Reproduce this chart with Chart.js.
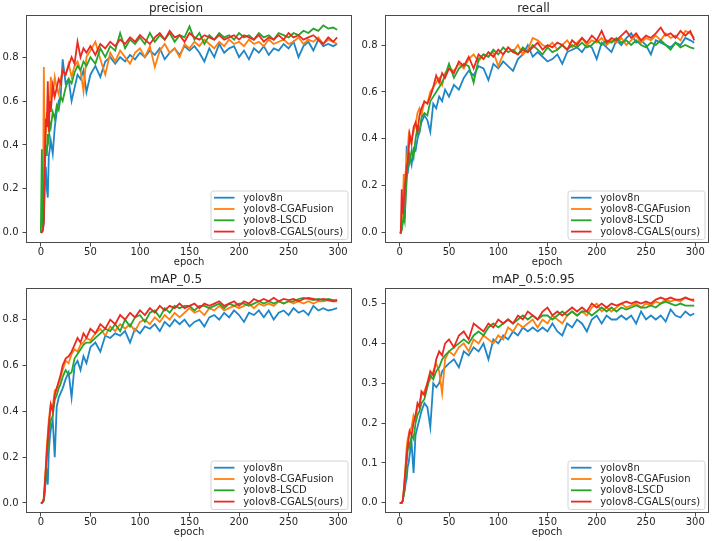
<!DOCTYPE html>
<html>
<head>
<meta charset="utf-8">
<script src="https://cdn.jsdelivr.net/npm/chart.js@4.4.1/dist/chart.umd.min.js"></script>
<style>
html,body{margin:0;padding:0;background:#fff;}
#wrap{position:relative;width:716px;height:541px;overflow:hidden;background:#fff;}
#wrap canvas{position:absolute;}
</style>
</head>
<body>
<div id="wrap">
<canvas id="c0" width="358" height="270" style="left:0px;top:0px"></canvas>
<canvas id="c1" width="358" height="270" style="left:358px;top:0px"></canvas>
<canvas id="c2" width="358" height="271" style="left:0px;top:270px"></canvas>
<canvas id="c3" width="358" height="271" style="left:358px;top:270px"></canvas>
</div>
<script>
// ---------------- data ----------------
const EPOCHS = [
  0,1,2,3,4,5,6,7,8,9,
  10,12,14,16,18,20,22,25,28,31,
  34,37,40,43,46,50,55,60,65,70,
  75,80,85,90,95,100,105,110,115,120,
  125,130,135,140,145,150,155,160,165,170,
  175,180,185,190,195,200,205,210,215,220,
  225,230,235,240,245,250,255,260,265,270,
  275,280,285,290,295,299];

const SERIES_NAMES = ['yolov8n','yolov8-CGAFusion','yolov8-LSCD','yolov8-CGALS(ours)'];
const X_TICKS = [0,50,100,150,200,250,300];
const Y_TICKS_UNIT = [0,0.2,0.4,0.6,0.8];
const Y_TICKS_HALF = [0,0.1,0.2,0.3,0.4,0.5];
const PANEL_TITLES = ['precision','recall','mAP_0.5','mAP_0.5:0.95'];
const X_LABEL = 'epoch';

// precision
const PREC_V8N = [
  0,0.003,0.01,0.05,0.22,0.30,0.20,0.16,0.35,0.38,
  0.42,0.36,0.48,0.55,0.60,0.62,0.79,0.68,0.70,0.60,
  0.66,0.72,0.70,0.74,0.64,0.72,0.76,0.71,0.78,0.80,
  0.77,0.80,0.78,0.81,0.79,0.82,0.80,0.83,0.81,0.84,
  0.79,0.82,0.84,0.81,0.85,0.83,0.85,0.82,0.78,0.84,
  0.80,0.86,0.82,0.84,0.85,0.80,0.83,0.79,0.84,0.82,
  0.85,0.81,0.84,0.83,0.86,0.84,0.87,0.80,0.85,0.87,
  0.83,0.88,0.85,0.86,0.85,0.86];
const PREC_CGAF = [
  0,0.005,0.02,0.755,0.30,0.45,0.55,0.50,0.62,0.58,
  0.71,0.62,0.71,0.66,0.63,0.70,0.74,0.72,0.77,0.71,
  0.76,0.78,0.74,0.645,0.80,0.83,0.87,0.79,0.72,0.82,
  0.78,0.83,0.80,0.77,0.82,0.84,0.80,0.85,0.755,0.83,
  0.86,0.82,0.84,0.80,0.86,0.84,0.87,0.85,0.88,0.86,
  0.84,0.87,0.85,0.88,0.86,0.87,0.85,0.88,0.86,0.87,
  0.85,0.88,0.86,0.87,0.88,0.86,0.87,0.89,0.86,0.88,
  0.87,0.89,0.86,0.88,0.87,0.86];
const PREC_LSCD = [
  0,0.38,0.02,0.10,0.30,0.40,0.35,0.45,0.42,0.50,
  0.48,0.55,0.52,0.58,0.56,0.62,0.60,0.66,0.70,0.68,
  0.73,0.76,0.74,0.78,0.76,0.80,0.77,0.84,0.80,0.85,
  0.83,0.91,0.84,0.88,0.86,0.89,0.86,0.91,0.87,0.90,
  0.88,0.91,0.87,0.90,0.89,0.94,0.88,0.91,0.86,0.90,
  0.88,0.91,0.89,0.90,0.88,0.91,0.89,0.90,0.88,0.91,
  0.89,0.90,0.88,0.91,0.90,0.89,0.91,0.90,0.92,0.91,
  0.93,0.92,0.945,0.93,0.935,0.925];
const PREC_CGALS = [
  0,0.003,0.01,0.05,0.35,0.52,0.48,0.69,0.46,0.60,
  0.55,0.67,0.62,0.66,0.70,0.68,0.74,0.72,0.76,0.80,
  0.77,0.87,0.80,0.84,0.82,0.85,0.81,0.86,0.84,0.87,
  0.85,0.88,0.86,0.89,0.87,0.90,0.88,0.86,0.89,0.91,
  0.88,0.92,0.89,0.90,0.87,0.91,0.89,0.88,0.90,0.89,
  0.88,0.90,0.88,0.89,0.90,0.88,0.90,0.89,0.88,0.90,
  0.87,0.89,0.88,0.90,0.88,0.91,0.89,0.90,0.88,0.89,
  0.90,0.88,0.86,0.89,0.87,0.89];

// recall
const REC_V8N = [
  0,0,0.02,0.05,0.10,0.06,0.18,0.37,0.25,0.30,
  0.33,0.29,0.36,0.35,0.40,0.43,0.47,0.50,0.48,0.43,
  0.55,0.53,0.58,0.56,0.61,0.58,0.63,0.61,0.66,0.69,
  0.67,0.71,0.70,0.65,0.72,0.70,0.73,0.71,0.69,0.74,
  0.76,0.80,0.75,0.77,0.75,0.73,0.74,0.76,0.72,0.77,
  0.78,0.79,0.77,0.80,0.79,0.74,0.81,0.79,0.77,0.82,
  0.80,0.83,0.85,0.81,0.82,0.80,0.76,0.82,0.81,0.80,
  0.79,0.81,0.80,0.83,0.82,0.81];
const REC_CGAF = [
  0,0,0.03,0.10,0.25,0.22,0.26,0.30,0.35,0.41,
  0.38,0.40,0.43,0.46,0.51,0.53,0.50,0.56,0.55,0.60,
  0.62,0.64,0.66,0.63,0.68,0.70,0.69,0.72,0.70,0.74,
  0.76,0.73,0.76,0.75,0.77,0.71,0.76,0.79,0.77,0.80,
  0.76,0.78,0.83,0.82,0.80,0.79,0.81,0.78,0.80,0.82,
  0.79,0.81,0.83,0.80,0.82,0.81,0.83,0.80,0.82,0.81,
  0.83,0.80,0.82,0.84,0.81,0.83,0.82,0.84,0.82,0.85,
  0.83,0.84,0.82,0.86,0.85,0.83];
const REC_LSCD = [
  0,0,0.01,0.04,0.07,0.05,0.15,0.22,0.28,0.33,
  0.30,0.35,0.32,0.40,0.45,0.43,0.49,0.51,0.50,0.56,
  0.58,0.60,0.62,0.64,0.67,0.72,0.66,0.70,0.72,0.71,
  0.64,0.74,0.76,0.75,0.78,0.76,0.79,0.77,0.78,0.76,
  0.79,0.77,0.80,0.78,0.76,0.79,0.77,0.78,0.80,0.78,
  0.80,0.79,0.81,0.79,0.80,0.82,0.80,0.82,0.81,0.83,
  0.81,0.82,0.80,0.82,0.80,0.79,0.81,0.80,0.82,0.80,
  0.78,0.81,0.79,0.80,0.79,0.785];
const REC_CGALS = [
  0,0,0.185,0.08,0.12,0.20,0.23,0.28,0.30,0.35,
  0.42,0.38,0.45,0.47,0.43,0.50,0.53,0.56,0.55,0.58,
  0.62,0.67,0.64,0.68,0.66,0.70,0.68,0.73,0.71,0.75,
  0.70,0.76,0.74,0.77,0.75,0.78,0.76,0.79,0.77,0.76,
  0.78,0.77,0.79,0.81,0.78,0.80,0.79,0.81,0.80,0.78,
  0.82,0.80,0.83,0.81,0.84,0.82,0.86,0.81,0.83,0.82,
  0.84,0.86,0.83,0.85,0.82,0.84,0.83,0.85,0.875,0.84,
  0.85,0.83,0.86,0.84,0.86,0.82];

// mAP_0.5
const MAP50_V8N = [
  0,0,0.005,0.01,0.05,0.10,0.15,0.08,0.22,0.28,
  0.32,0.36,0.20,0.42,0.46,0.48,0.50,0.54,0.57,0.46,
  0.60,0.62,0.58,0.64,0.61,0.68,0.70,0.66,0.73,0.72,
  0.74,0.73,0.75,0.70,0.76,0.74,0.77,0.76,0.78,0.75,
  0.79,0.77,0.80,0.78,0.80,0.77,0.79,0.80,0.77,0.81,
  0.82,0.80,0.83,0.81,0.84,0.82,0.79,0.83,0.82,0.84,
  0.81,0.84,0.80,0.83,0.84,0.82,0.85,0.83,0.84,0.82,
  0.86,0.84,0.85,0.84,0.845,0.85];
const MAP50_CGAF = [
  0,0,0.005,0.02,0.10,0.16,0.25,0.30,0.36,0.40,
  0.43,0.42,0.49,0.50,0.52,0.55,0.58,0.62,0.61,0.65,
  0.67,0.66,0.69,0.70,0.72,0.71,0.74,0.76,0.73,0.77,
  0.75,0.78,0.76,0.78,0.75,0.79,0.80,0.78,0.81,0.79,
  0.82,0.80,0.83,0.81,0.83,0.85,0.83,0.84,0.82,0.85,
  0.84,0.86,0.84,0.85,0.86,0.85,0.86,0.87,0.85,0.87,
  0.86,0.87,0.86,0.88,0.87,0.88,0.87,0.88,0.87,0.88,
  0.87,0.88,0.88,0.885,0.88,0.88];
const MAP50_LSCD = [
  0,0,0.005,0.01,0.06,0.12,0.20,0.24,0.30,0.33,
  0.36,0.38,0.45,0.47,0.50,0.52,0.55,0.58,0.56,0.57,
  0.63,0.65,0.67,0.69,0.70,0.70,0.72,0.74,0.76,0.75,
  0.78,0.75,0.80,0.77,0.81,0.82,0.79,0.83,0.84,0.81,
  0.85,0.83,0.86,0.85,0.86,0.86,0.84,0.86,0.86,0.85,
  0.86,0.87,0.85,0.87,0.86,0.87,0.87,0.86,0.87,0.88,
  0.87,0.88,0.87,0.88,0.87,0.88,0.88,0.89,0.895,0.89,
  0.885,0.89,0.885,0.89,0.885,0.885];
const MAP50_CGALS = [
  0,0,0.005,0.02,0.08,0.15,0.22,0.28,0.34,0.38,
  0.43,0.40,0.47,0.50,0.53,0.56,0.60,0.63,0.64,0.66,
  0.69,0.72,0.70,0.74,0.72,0.76,0.74,0.78,0.76,0.80,
  0.78,0.82,0.80,0.83,0.81,0.84,0.82,0.85,0.83,0.86,
  0.84,0.86,0.85,0.87,0.85,0.86,0.87,0.85,0.87,0.86,
  0.87,0.88,0.86,0.87,0.88,0.86,0.88,0.87,0.89,0.88,
  0.89,0.88,0.895,0.88,0.89,0.885,0.89,0.88,0.89,0.895,
  0.89,0.885,0.89,0.885,0.88,0.885];

// mAP_0.5:0.95
const MAP5095_V8N = [
  0,0,0,0.005,0.02,0.03,0.05,0.06,0.09,0.10,
  0.12,0.15,0.075,0.17,0.19,0.21,0.23,0.25,0.24,0.19,
  0.30,0.29,0.30,0.33,0.34,0.35,0.36,0.34,0.38,0.37,
  0.39,0.38,0.40,0.36,0.41,0.40,0.42,0.41,0.43,0.42,
  0.44,0.43,0.44,0.43,0.44,0.43,0.45,0.43,0.42,0.45,
  0.44,0.46,0.45,0.43,0.46,0.47,0.45,0.47,0.46,0.46,
  0.47,0.46,0.47,0.45,0.48,0.46,0.47,0.46,0.47,0.455,
  0.485,0.47,0.465,0.48,0.47,0.475];
const MAP5095_CGAF = [
  0,0,0,0.005,0.03,0.06,0.10,0.14,0.16,0.17,
  0.18,0.19,0.22,0.21,0.24,0.25,0.27,0.28,0.30,0.31,
  0.33,0.35,0.33,0.275,0.36,0.38,0.37,0.39,0.40,0.38,
  0.41,0.40,0.42,0.41,0.40,0.42,0.41,0.44,0.43,0.45,
  0.44,0.45,0.46,0.44,0.46,0.45,0.47,0.46,0.45,0.47,
  0.48,0.47,0.48,0.47,0.49,0.50,0.48,0.49,0.48,0.49,
  0.50,0.49,0.495,0.50,0.49,0.50,0.495,0.505,0.50,0.51,
  0.505,0.51,0.505,0.515,0.51,0.505];
const MAP5095_LSCD = [
  0,0,0,0.005,0.02,0.04,0.07,0.10,0.13,0.15,
  0.14,0.17,0.16,0.20,0.22,0.23,0.25,0.26,0.29,0.32,
  0.31,0.33,0.34,0.36,0.37,0.38,0.39,0.40,0.41,0.40,
  0.42,0.43,0.42,0.44,0.45,0.44,0.45,0.46,0.45,0.46,
  0.47,0.46,0.47,0.46,0.47,0.47,0.46,0.47,0.48,0.47,
  0.48,0.47,0.48,0.48,0.47,0.48,0.49,0.48,0.49,0.48,
  0.49,0.485,0.49,0.495,0.49,0.49,0.495,0.49,0.50,0.505,
  0.50,0.495,0.50,0.495,0.495,0.495];
const MAP5095_CGALS = [
  0,0,0,0.005,0.03,0.06,0.09,0.12,0.14,0.16,
  0.18,0.17,0.20,0.22,0.25,0.24,0.28,0.27,0.30,0.33,
  0.32,0.36,0.38,0.37,0.40,0.41,0.39,0.42,0.43,0.41,
  0.45,0.44,0.43,0.45,0.44,0.46,0.45,0.46,0.45,0.47,
  0.46,0.48,0.47,0.46,0.48,0.49,0.47,0.48,0.47,0.48,
  0.49,0.48,0.49,0.48,0.50,0.49,0.50,0.49,0.50,0.495,
  0.50,0.505,0.50,0.505,0.50,0.505,0.50,0.51,0.515,0.51,
  0.515,0.51,0.51,0.515,0.51,0.51];

// ---------------- style / layout ----------------
const COLORS = ['#1f86c8', '#ff7f0e', '#26a52a', '#ea2a22'];
const FONT = '"DejaVu Sans", "Liberation Sans", sans-serif';
const FRAME_COLOR = '#4a4a4a';
const TEXT_COLOR = '#262626';

const PANELS = [
  { id:'c0', title:PANEL_TITLES[0], series:[PREC_V8N,PREC_CGAF,PREC_LSCD,PREC_CGALS],
    yMin:-0.047, yMax:0.992, yTicks:Y_TICKS_UNIT,
    areaLeft:26, padRight:6, titlePad:{top:3,bottom:0}, xAxisH:27, xTitlePad:2 },
  { id:'c1', title:PANEL_TITLES[1], series:[REC_V8N,REC_CGAF,REC_LSCD,REC_CGALS],
    yMin:-0.044, yMax:0.928, yTicks:Y_TICKS_UNIT,
    areaLeft:27, padRight:7, titlePad:{top:3,bottom:0}, xAxisH:27, xTitlePad:2 },
  { id:'c2', title:PANEL_TITLES[2], series:[MAP50_V8N,MAP50_CGAF,MAP50_LSCD,MAP50_CGALS],
    yMin:-0.044, yMax:0.938, yTicks:Y_TICKS_UNIT,
    areaLeft:26, padRight:6, titlePad:{top:4,bottom:2}, xAxisH:28, xTitlePad:3 },
  { id:'c3', title:PANEL_TITLES[3], series:[MAP5095_V8N,MAP5095_CGAF,MAP5095_LSCD,MAP5095_CGALS],
    yMin:-0.0255, yMax:0.539, yTicks:Y_TICKS_HALF,
    areaLeft:27, padRight:7, titlePad:{top:4,bottom:2}, xAxisH:28, xTitlePad:3 }
];

const frameLegendPlugin = {
  id: 'frameLegend',
  afterDatasetsDraw(chart) {
    const ctx = chart.ctx, a = chart.chartArea;
    ctx.save();
    ctx.strokeStyle = FRAME_COLOR;
    ctx.lineWidth = 1;
    const l = Math.round(a.left) + 0.5, t = Math.round(a.top) + 0.5;
    const r = Math.round(a.right) - 0.5, b = Math.round(a.bottom) - 0.5;
    ctx.strokeRect(l, t, r - l, b - t);
    const w = 137, h = 48.5;
    const x1 = a.right - 4.5 - w, y1 = a.bottom - 4 - h;
    ctx.beginPath();
    if (ctx.roundRect) ctx.roundRect(x1 + 0.5, y1 + 0.5, w, h, 2.5); else ctx.rect(x1 + 0.5, y1 + 0.5, w, h);
    ctx.fillStyle = 'rgba(255,255,255,0.85)';
    ctx.fill();
    ctx.strokeStyle = '#d4d4d4';
    ctx.stroke();
    ctx.font = '10px ' + FONT;
    ctx.textBaseline = 'middle';
    ctx.textAlign = 'left';
    chart.data.datasets.forEach((ds, i) => {
      const y = y1 + 7.2 + i * 11.3;
      ctx.strokeStyle = ds.borderColor;
      ctx.lineWidth = 1.8;
      ctx.beginPath();
      ctx.moveTo(x1 + 3.5, y);
      ctx.lineTo(x1 + 24, y);
      ctx.stroke();
      ctx.fillStyle = TEXT_COLOR;
      ctx.fillText(ds.label, x1 + 32.7, y + 0.5);
    });
    ctx.restore();
  }
};

PANELS.forEach(p => {
  const datasets = p.series.map((arr, i) => ({
    label: SERIES_NAMES[i],
    data: EPOCHS.map((x, k) => ({ x: x, y: arr[k] })),
    borderColor: COLORS[i],
    backgroundColor: COLORS[i],
    borderWidth: 1.8,
    pointRadius: 0,
    tension: 0,
    fill: false,
    order: 3 - i
  }));
  new Chart(document.getElementById(p.id), {
    type: 'line',
    data: { datasets },
    plugins: [frameLegendPlugin],
    options: {
      responsive: false,
      animation: false,
      devicePixelRatio: 1,
      layout: { padding: { left: 0, right: p.padRight, top: 0, bottom: 0 } },
      plugins: {
        legend: { display: false },
        tooltip: { enabled: false },
        title: {
          display: true, text: p.title, color: TEXT_COLOR,
          font: { family: FONT, size: 12, weight: 'normal', lineHeight: 1 },
          padding: p.titlePad
        }
      },
      scales: {
        x: {
          type: 'linear', min: -15, max: 314,
          afterBuildTicks: s => { s.ticks = X_TICKS.map(v => ({ value: v })); },
          afterFit: s => { s.height = p.xAxisH; },
          ticks: { color: TEXT_COLOR, font: { family: FONT, size: 10, lineHeight: 1 }, padding: 0.5,
                   maxRotation: 0, autoSkip: false, callback: v => String(v) },
          grid: { display: true, drawOnChartArea: false, drawTicks: true, tickLength: 3.5, color: FRAME_COLOR, lineWidth: 1 },
          border: { display: false },
          title: { display: true, text: X_LABEL, color: TEXT_COLOR,
                   font: { family: FONT, size: 10, lineHeight: 1.2 }, padding: { top: 0, bottom: p.xTitlePad } }
        },
        y: {
          type: 'linear', min: p.yMin, max: p.yMax,
          afterBuildTicks: s => { s.ticks = p.yTicks.map(v => ({ value: v })); },
          afterFit: s => { s.width = p.areaLeft; },
          ticks: { color: TEXT_COLOR, font: { family: FONT, size: 10, lineHeight: 1 }, padding: 4,
                   callback: v => Number(v).toFixed(1) },
          grid: { display: true, drawOnChartArea: false, drawTicks: true, tickLength: 3.5, color: FRAME_COLOR, lineWidth: 1 },
          border: { display: false }
        }
      }
    }
  });
});
</script>
</body>
</html>
